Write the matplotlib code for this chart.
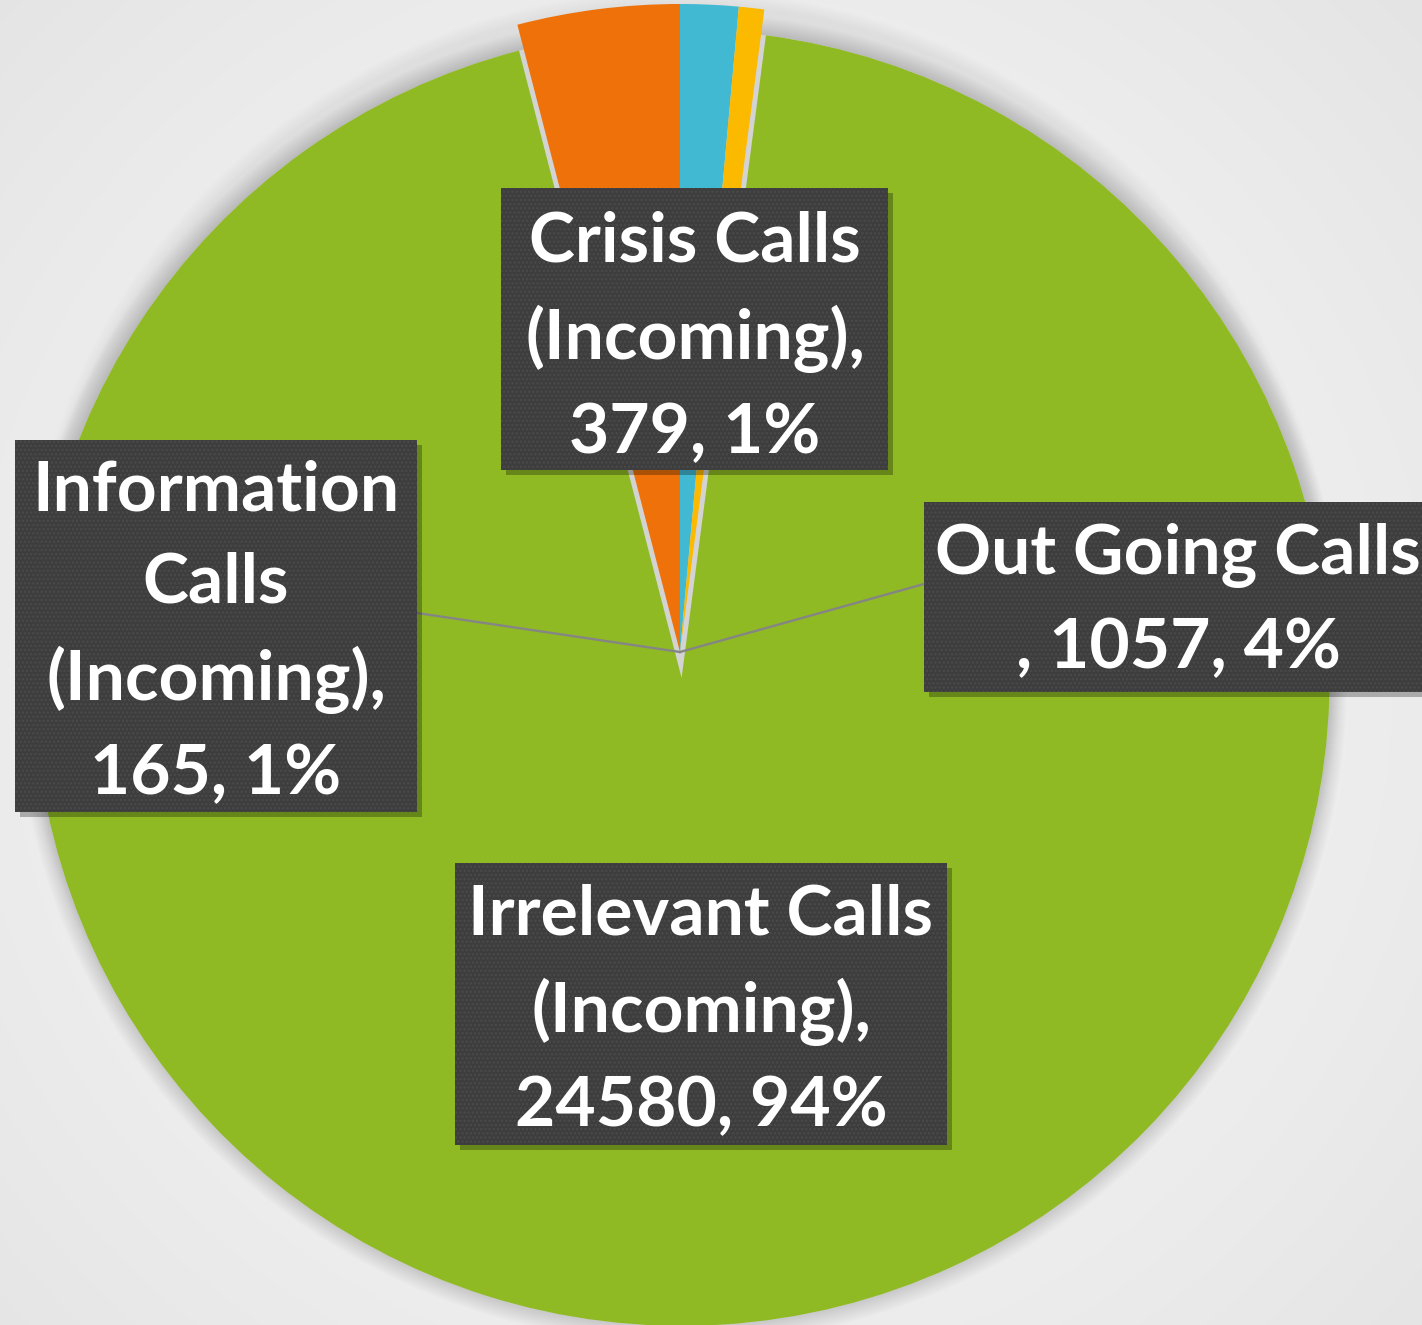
import numpy as np
import matplotlib
matplotlib.use("Agg")
import matplotlib.pyplot as plt
from matplotlib.patches import Rectangle, Circle

# ---- data ----
categories = ["Crisis Calls\n(Incoming)", "Information\nCalls\n(Incoming)",
              "Irrelevant Calls\n(Incoming)", "Out Going Calls"]
values = [379, 165, 24580, 1057]
colors = ["#41b9d3", "#fbb900", "#8fba23", "#ee710a"]
explode_frac = [0, 0, 0.04, 0]
break_after_name_comma = [True, True, True, False]

W, H = 1422, 1325
plt.rcParams['hatch.linewidth'] = 1.2
fig = plt.figure(figsize=(W / 100, H / 100), dpi=100)
ax = fig.add_axes([0, 0, 1, 1])

# background radial gradient
yy, xx = np.mgrid[0:H, 0:W]
d = np.hypot(xx - 700, yy - 640) / np.hypot(760, 700)
g = 0.965 - 0.075 * np.clip(d, 0, 1) ** 1.6
ax.imshow(np.dstack([g, g, g]), extent=(0, W, 0, H), origin='lower', zorder=0)

cx, cy, R = 680, H - 652, 648
wedges, _ = ax.pie(values, colors=colors, startangle=90, counterclock=False,
                   explode=[e * R for e in explode_frac], center=(cx, cy), radius=R,
                   frame=True, wedgeprops=dict(linewidth=0))
for w in wedges:
    w.set_zorder(3)
ax.set_xlim(0, W)
ax.set_ylim(0, H)
ax.set_aspect('equal')
ax.axis('off')

# soft shadow around the pie and gap fill
gc = wedges[2].center
for k in range(18):
    ax.add_patch(Circle(gc, R + 1 + k, color='black', alpha=0.009, lw=0, zorder=1))
for k in range(14):
    ax.add_patch(Circle((cx, cy), R + 1 + k, color='black', alpha=0.005, lw=0, zorder=1))
ax.add_patch(Circle(gc, R, color='#d3d3d3', lw=0, zorder=2))

total = sum(values)
labels = []
for name, v, brk in zip(categories, values, break_after_name_comma):
    p = round(v / total * 100)
    labels.append(f"{name},\n{v}, {p}%" if brk else f"{name}\n, {v}, {p}%")

# label boxes (pixel layout): x0, y0(top), x1, y1(bottom)
boxes = [(501, 188, 888, 470), (15, 440, 417, 812), (455, 863, 947, 1145), (924, 502, 1440, 692)]
text_centers = [(695, 338), (216, 633), (701, 1011), (1178, 602)]

# leader lines from the pie centre to the side boxes
ax.plot([cx, 417], [cy, H - 613], color='#858585', lw=1.7, zorder=4)
ax.plot([cx, 924], [cy, H - 584], color='#858585', lw=1.7, zorder=4)

for (x0, y0, x1, y1), (tx, ty), lab in zip(boxes, text_centers, labels):
    ax.add_patch(Rectangle((x0 + 5, H - y1 - 5), x1 - x0, y1 - y0, color='black',
                           alpha=0.28, lw=0, zorder=5))
    ax.add_patch(Rectangle((x0, H - y1), x1 - x0, y1 - y0, facecolor='#3d3d3d',
                           edgecolor='#4a4a4a', hatch='....', lw=0, zorder=6))
    ax.text(tx, H - ty, lab, ha='center', va='center', color='white', fontsize=50,
            fontweight='bold', family=['Lato', 'DejaVu Sans'], linespacing=1.57,
            zorder=7, multialignment='center')

fig.savefig("out.png", dpi=100)
